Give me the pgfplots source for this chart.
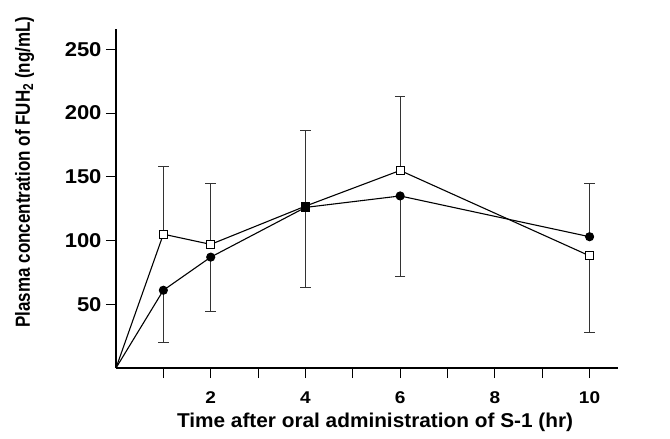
\documentclass[border=0pt]{standalone}
\usepackage{fontspec}
\setmainfont{Liberation Sans}
\usepackage{graphicx}
\usepackage{pgfplots}
\pgfplotsset{compat=1.18}
\begin{document}
\begin{tikzpicture}
\useasboundingbox (-116bp,-71bp) rectangle (554bp,368bp);
\begin{axis}[
  at={(0,0)}, anchor=south west,
  scale only axis, width=502bp, height=339bp,
  xmin=0, xmax=10.6, ymin=0, ymax=266,
  axis lines*=left,
  axis line style={line width=1.2bp, black},
  xtick={1,2,3,4,5,6,7,8,9,10},
  xticklabels={,\scalebox{1.12}[1]{2},,\scalebox{1.12}[1]{4},,\scalebox{1.12}[1]{6},,\scalebox{1.12}[1]{8},,\scalebox{1.12}[1]{10}},
  ytick={50,100,150,200,250},
  yticklabels={\scalebox{1.1}[1]{50},\scalebox{1.1}[1]{100},\scalebox{1.1}[1]{150},\scalebox{1.1}[1]{200},\scalebox{1.1}[1]{250}},
  tick align=outside, major tick length=10bp,
  tick style={black, line width=1bp},
  xticklabel style={font=\bfseries\fontsize{17bp}{20bp}\selectfont, yshift=-10bp},
  yticklabel style={font=\bfseries\fontsize{20bp}{24bp}\selectfont, xshift=-1bp},
  xlabel={\scalebox{1.04}[1]{Time after oral administration of S-1 (hr)}},
  ylabel={\scalebox{1}[1.2]{Plasma concentration of FUH\textsubscript{2} (ng/mL)}},
  xlabel style={font=\bfseries\fontsize{20bp}{24bp}\selectfont,
    at={(rel axis cs:0.516,0)}, anchor=base, yshift=-59bp},
  ylabel style={font=\bfseries\fontsize{17bp}{20bp}\selectfont,
    at={(rel axis cs:0,0.578)}, anchor=base, yshift=86bp},
  clip=false,
]
% error bars (upward)
\addplot[black!80, forget plot, only marks, mark=none,
  error bars/.cd, y dir=plus, y explicit,
  error bar style={line width=1bp, black!80},
  error mark options={rotate=90, mark size=5.3bp, line width=1bp, black!80}]
  coordinates {
  (1,105) +- (0,53)
  (2,97) +- (0,48)
  (4,127) +- (0,59)
  (6,155) +- (0,58)
  (10,103) +- (0,42)
};
% error bars (downward)
\addplot[black!80, forget plot, only marks, mark=none,
  error bars/.cd, y dir=minus, y explicit,
  error bar style={line width=1bp, black!80},
  error mark options={rotate=90, mark size=5.3bp, line width=1bp, black!80}]
  coordinates {
  (1,61) +- (0,41)
  (2,87) +- (0,43)
  (4,126) +- (0,63)
  (6,135) +- (0,63)
  (10,88) +- (0,60)
};
% open squares
\addplot[black, line width=1.1bp, mark=square*, mark size=4bp,
  mark options={fill=white, line width=1bp}, mark indices={2,3,5,6}]
  coordinates {(0,0) (1,105) (2,97) (4,127) (6,155) (10,88)};
% filled circles
\addplot[black, line width=1.1bp, mark=*, mark size=4bp,
  mark options={fill=black}, mark indices={2,3,5,6}]
  coordinates {(0,0) (1,61) (2,87) (4,126) (6,135) (10,103)};
% overlapping point at 4 h
\addplot[black, only marks, mark=square*, mark size=4.2bp,
  mark options={fill=black}]
  coordinates {(4,126.5)};
\end{axis}
\end{tikzpicture}
\end{document}
